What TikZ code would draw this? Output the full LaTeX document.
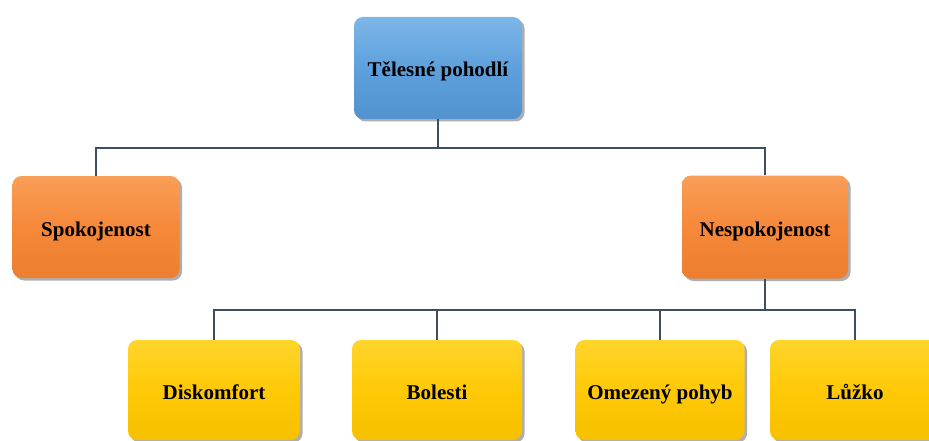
\documentclass[tikz,border=0pt]{standalone}
\usepackage{fontspec}
\setmainfont{Liberation Serif}
\usetikzlibrary{shadows}

\definecolor{blueMain}{HTML}{5DA0DC}
\definecolor{blueTop}{HTML}{7EB6E8}
\definecolor{blueBot}{HTML}{5293CF}
\definecolor{orangeMain}{HTML}{F6883A}
\definecolor{orangeTop}{HTML}{F99F58}
\definecolor{orangeBot}{HTML}{EC7E30}
\definecolor{yellowMain}{HTML}{FFC906}
\definecolor{yellowTop}{HTML}{FFD52C}
\definecolor{yellowBot}{HTML}{F7C000}
\definecolor{linkColor}{HTML}{3E4E60}

\tikzset{
  box/.style={rounded corners=9pt, inner sep=2pt, align=center,
    font=\fontsize{21}{24}\selectfont\bfseries, text=black,
    text height=20pt, text depth=2pt,
    drop shadow={shadow xshift=2.5pt, shadow yshift=-2.5pt, opacity=0.45, fill=black!70}},
  bluebox/.style={box, top color=blueTop, bottom color=blueBot, middle color=blueMain},
  orangebox/.style={box, top color=orangeTop, bottom color=orangeBot, middle color=orangeMain},
  yellowbox/.style={box, top color=yellowTop, bottom color=yellowBot, middle color=yellowMain},
  link/.style={draw=linkColor, line width=2pt}
}

\begin{document}
\begin{tikzpicture}[x=1pt, y=-1pt]
  \useasboundingbox (0,0) rectangle (929,441);

  % top level
  \node[bluebox, minimum width=168pt, minimum height=102pt] (top) at (438,68) {Tělesné pohodlí};

  % second level
  \node[orangebox, minimum width=167pt, minimum height=102pt] (spok) at (96,227) {Spokojenost};
  \node[orangebox, minimum width=166pt, minimum height=103pt] (nesp) at (765,227) {Nespokojenost};

  % third level
  \node[yellowbox, minimum width=172pt, minimum height=100pt] (disk) at (214,390) {Diskomfort};
  \node[yellowbox, minimum width=170pt, minimum height=100pt] (bol)  at (437,390) {Bolesti};
  \node[yellowbox, minimum width=169pt, minimum height=100pt] (omez) at (660,390) {Omezený pohyb};
  \node[yellowbox, minimum width=170pt, minimum height=100pt] (luzko) at (855,390) {Lůžko};

  % bus lines
  \coordinate (busA) at (438,148);
  \coordinate (busB) at (765,310);

  \draw[link] (top.south) -- (top.south |- busA) -| (spok.north);
  \draw[link] (top.south |- busA) -| (nesp.north);

  \draw[link] (nesp.south) -- (nesp.south |- busB) -| (disk.north);
  \draw[link] (nesp.south |- busB) -| (bol.north);
  \draw[link] (nesp.south |- busB) -| (omez.north);
  \draw[link] (nesp.south |- busB) -| (luzko.north);
\end{tikzpicture}
\end{document}
